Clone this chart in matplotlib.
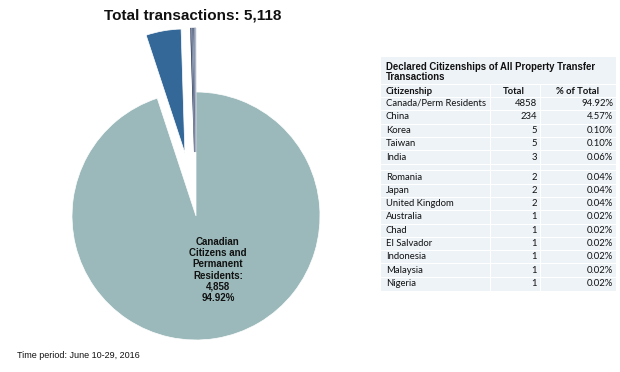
import matplotlib
matplotlib.use("Agg")
import matplotlib.pyplot as plt
from matplotlib.patches import Rectangle

# ---------------- data ----------------
citizenships = ["Canada/Perm Residents", "China", "Korea", "Taiwan", "India",
                "Romania", "Japan", "United Kingdom", "Australia", "Chad",
                "El Salvador", "Indonesia", "Malaysia", "Nigeria"]
totals = [4858, 234, 5, 5, 3, 2, 2, 2, 1, 1, 1, 1, 1, 1]
pct_labels = ["94.92%", "4.57%", "0.10%", "0.10%", "0.06%", "0.04%", "0.04%",
              "0.04%", "0.02%", "0.02%", "0.02%", "0.02%", "0.02%", "0.02%"]
total_transactions = "5,118"
main_label = "Canadian\nCitizens and\nPermanent\nResidents:\n4,858\n94.92%"
table_title = "Declared Citizenships of All Property Transfer\nTransactions"
col_headers = ["Citizenship", "Total", "% of Total"]
footnote = "Time period: June 10-29, 2016"

# ---------------- figure ----------------
W, H = 620, 372
fig = plt.figure(figsize=(W / 100, H / 100), dpi=100)
ax = fig.add_axes([0, 0, 1, 1])
ax.set_axis_off()

def Y(y):  # image y (top-down) -> data y
    return H - y

# pie
cx, cy, r = 196, 216, 124
colors = ["#9bb9ba", "#346898"] + ["#3f4d6b", "#7d8aa6", "#56637f", "#a9b3c6",
                                   "#4a5877", "#9aa6bd", "#6f7f9c", "#b8c0d0",
                                   "#5e6c89", "#a2acc0", "#8491a9", "#c0c6d3"]
explode = [0.0] + [64] * (len(totals) - 1)   # offsets in data units (pixels)
wedges, _ = ax.pie(totals, center=(cx, Y(cy)), radius=r, startangle=90,
                   counterclock=False, explode=explode, colors=colors,
                   wedgeprops=dict(edgecolor="white", linewidth=0.5), frame=True)
for w in wedges[2:]:
    w.set_edgecolor(w.get_facecolor())
    w.set_linewidth(0.35)
ax.set_xlim(0, W)
ax.set_ylim(0, H)
ax.set_aspect("equal")
ax.set_axis_off()

ax.text(218, Y(270), main_label, ha="center", va="center", fontsize=7,
        fontweight="bold", family="Liberation Sans", linespacing=1.15, color="#111111")

ax.text(193, Y(16), "Total transactions: " + total_transactions, ha="center",
        va="center", fontsize=11, fontweight="bold", family="Liberation Sans",
        color="#111111")

ax.text(17, Y(355), footnote, ha="left", va="center", fontsize=6.5,
        family="Liberation Sans", color="#111111")

# ---------------- table ----------------
x0, x1 = 381, 616
ytop, ybot = 57, 291
bg = "#eef3f8"
ax.add_patch(Rectangle((x0, Y(ybot)), x1 - x0, ybot - ytop, facecolor=bg,
                       edgecolor="none", zorder=1))

ax.text(386, Y(72), table_title, ha="left", va="center", fontsize=6.95,
        fontweight="bold", family="Liberation Sans", linespacing=1.0,
        color="#111111", zorder=3)

header_y = 91
row_y = [103.5 + 13.4 * i for i in range(5)] + [177 + 13.3 * i for i in range(9)]
col_x_name, col_x_total, col_x_pct = 386, 537, 613
font_body = dict(family="Lato", fontsize=6.8, color="#111111", zorder=3)

ax.text(col_x_name, Y(header_y), col_headers[0], ha="left", va="center",
        fontweight="bold", **font_body)
ax.text(514, Y(header_y), col_headers[1], ha="center", va="center",
        fontweight="bold", **font_body)
ax.text(577, Y(header_y), col_headers[2], ha="center", va="center",
        fontweight="bold", **font_body)

for name, tot, pc, y in zip(citizenships, totals, pct_labels, row_y):
    ax.text(col_x_name, Y(y), name, ha="left", va="center", **font_body)
    ax.text(col_x_total, Y(y), str(tot), ha="right", va="center", **font_body)
    ax.text(col_x_pct, Y(y), pc, ha="right", va="center", **font_body)

# white separator lines
bounds = [84, 97] + [y + 6.7 for y in row_y[:5]] + [170] + [y + 6.6 for y in row_y[5:-1]]
for b in bounds:
    ax.plot([x0, x1], [Y(b), Y(b)], color="white", lw=0.8, zorder=2)
for vx in [490, 540]:
    ax.plot([vx, vx], [Y(84), Y(ybot)], color="white", lw=0.8, zorder=2)

fig.savefig("out.png", dpi=100, facecolor="white")
